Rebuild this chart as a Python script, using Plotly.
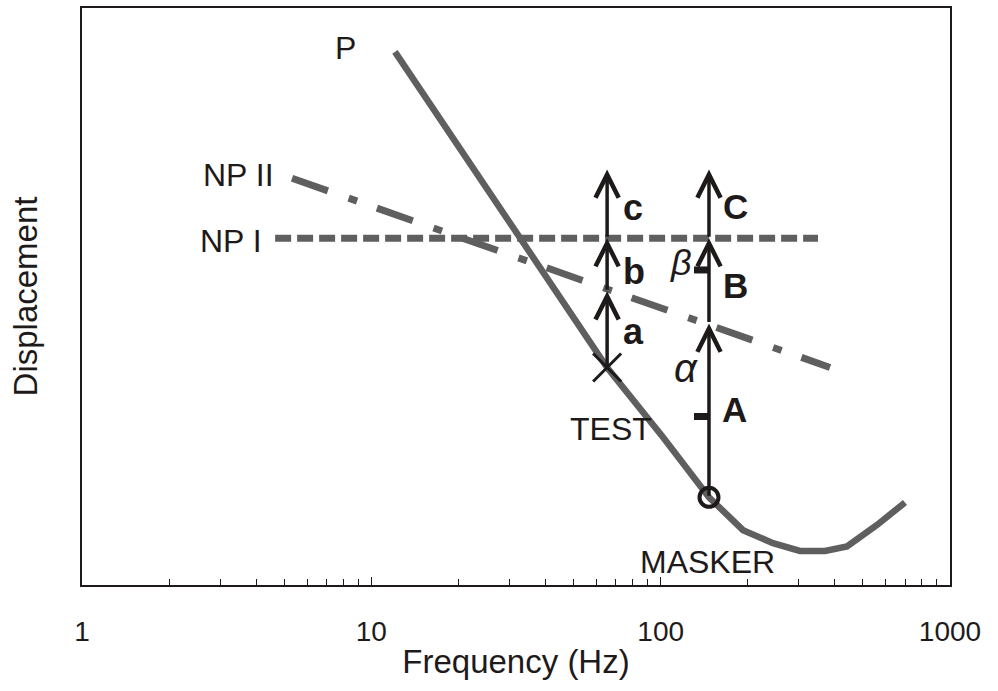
import math
import plotly.graph_objects as go

# ---------------- data ----------------
P_freq = [12.07, 65.3, 101.9, 146.9, 192.6, 244.5, 303.0, 369.8, 440.6, 559.4, 699.0]
P_disp = [92.4, 37.7, 25.6, 15.2, 9.5, 7.25, 5.9, 5.9, 6.7, 10.4, 14.3]

NP1_freq = [4.65, 349.8]
NP1_disp = [60.1, 60.1]

NP2_freq = [5.32, 384.8]
NP2_disp = [70.5, 37.7]

test_freq = 65.3
test_levels = [37.7, 50.9, 60.1, 72.0]      # X point, a, b, c arrow tips
masker_freq = 146.9
masker_levels = [15.2, 45.3, 60.1, 72.0]    # O point, A, B, C arrow tips

bar_left_freq = 130.4
bar_levels = [29.2, 54.6]                    # small bars (A, beta)

x_ticks = [1, 10, 100, 1000]
x_tick_labels = ["1", "10", "100", "1000"]
x_minor_ticks = [m * d for d in (1, 10, 100) for m in range(2, 10)]

GREY = "#5f5f5f"
INK = "#1e1a1a"
FONT = "Liberation Sans, Arial, sans-serif"

fig = go.Figure()

fig.add_trace(go.Scatter(x=P_freq, y=P_disp, mode="lines",
                         line=dict(color=GREY, width=6.5), hoverinfo="skip"))
fig.add_trace(go.Scatter(x=NP1_freq, y=NP1_disp, mode="lines",
                         line=dict(color=GREY, width=7, dash="16px,6px"), hoverinfo="skip"))
fig.add_trace(go.Scatter(x=NP2_freq, y=NP2_disp, mode="lines",
                         line=dict(color=GREY, width=7, dash="38px,22px,9px,21px"), hoverinfo="skip"))

# small bars on masker column
for lvl in bar_levels:
    fig.add_trace(go.Scatter(x=[bar_left_freq, masker_freq], y=[lvl, lvl], mode="lines",
                             line=dict(color=INK, width=7), hoverinfo="skip"))

# arrows
def add_arrows(freq, levels):
    lx = math.log10(freq)
    for i in range(1, len(levels)):
        fig.add_annotation(x=lx, y=levels[i], ax=lx, ay=levels[i - 1],
                           xref="x", yref="y", axref="x", ayref="y",
                           text="", showarrow=True, arrowhead=5, arrowsize=1.3,
                           arrowwidth=3.5, arrowcolor=INK, standoff=0, startstandoff=0)

add_arrows(test_freq, test_levels)
add_arrows(masker_freq, masker_levels)

# markers
fig.add_trace(go.Scatter(x=[test_freq], y=[test_levels[0]], mode="markers",
                         marker=dict(symbol="x-thin-open", size=28, color=INK,
                                     line=dict(color=INK, width=3)), hoverinfo="skip"))
fig.add_trace(go.Scatter(x=[masker_freq], y=[masker_levels[0]], mode="markers",
                         marker=dict(symbol="circle-open", size=19, color=INK,
                                     line=dict(color=INK, width=4)), hoverinfo="skip"))

# text labels (positions in axis units; x is log10 for log axis)
def px2x(px):
    return (px - 82) / 289.33

def px2y(py):
    return (585 - py) / 5.79

def label(text, px, pybase, size, xanchor="center", bold=False, italic=False):
    cy = pybase - 0.3465 * size
    t = text
    if bold:
        t = "<b>" + t + "</b>"
    if italic:
        t = "<i>" + t + "</i>"
    fig.add_annotation(x=px2x(px), y=px2y(cy), xref="x", yref="y", text=t,
                       showarrow=False, xanchor=xanchor, yanchor="middle",
                       font=dict(family=FONT, size=size, color=INK))

label("P", 345, 57, 32)
label("NP II", 276, 185, 32, xanchor="right")
label("NP I", 264, 251, 32, xanchor="right")
label("c", 621, 219, 36, xanchor="left", bold=True)
label("b", 621, 283, 36, xanchor="left", bold=True)
label("a", 621, 343, 36, xanchor="left", bold=True)
label("C", 721, 217, 35, xanchor="left", bold=True)
label("B", 721, 297, 35, xanchor="left", bold=True)
label("A", 720, 421, 35, xanchor="left", bold=True)
label("α", 672, 381, 40, xanchor="left", italic=True)
label("β", 668, 274, 36, xanchor="left", italic=True)
label("TEST", 611, 440, 32)
label("MASKER", 707, 573, 32)

fig.update_layout(
    width=998, height=691,
    margin=dict(l=82, r=48, t=6, b=106),
    paper_bgcolor="white", plot_bgcolor="white",
    showlegend=False,
    font=dict(family=FONT, color=INK),
    xaxis=dict(type="log", range=[0, 3], showgrid=False, zeroline=False,
               showline=True, linecolor=INK, linewidth=2, mirror=True,
               tickvals=x_ticks, ticktext=x_tick_labels,
               ticks="inside", ticklen=8, tickwidth=1.2, tickcolor=INK,
               tickfont=dict(family=FONT, size=28, color=INK),
               ticklabelstandoff=20,
               minor=dict(tickvals=x_minor_ticks, ticks="inside", ticklen=6,
                          tickwidth=1.2, tickcolor=INK, showgrid=False),
               title=dict(text="Frequency (Hz)", standoff=4,
                          font=dict(family=FONT, size=33, color=INK))),
    yaxis=dict(range=[0, 100], showgrid=False, zeroline=False,
               showline=True, linecolor=INK, linewidth=2, mirror=True,
               showticklabels=False, ticks="",
               title=dict(text="Displacement", standoff=32,
                          font=dict(family=FONT, size=33, color=INK))),
)

fig.write_html("out.html")
